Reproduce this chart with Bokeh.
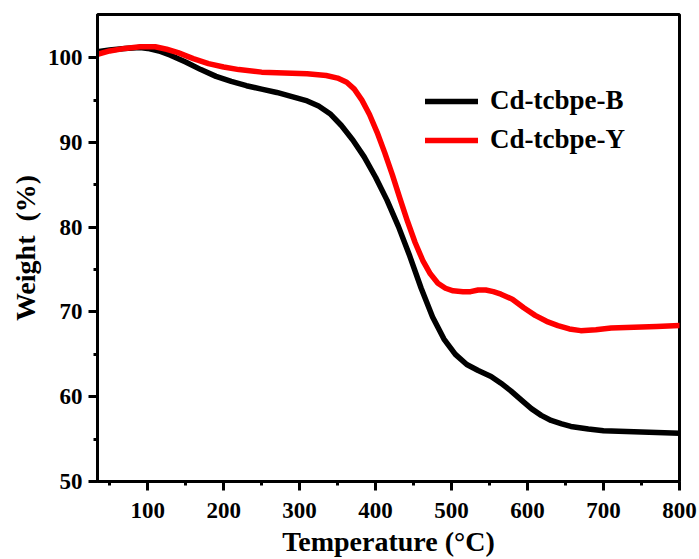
from bokeh.plotting import figure
from bokeh.models import FixedTicker, Range1d, Legend, LegendItem
from bokeh.embed import file_html
from bokeh.resources import INLINE

# Data
temp_b = [34, 50, 70, 90, 100, 115, 130, 150, 170, 190, 210, 230, 250, 270, 290, 310, 325, 340, 355, 370,
          385, 400, 415, 430, 445, 460, 475, 490, 505, 520, 535, 552, 565, 578, 592, 605, 618, 631, 645, 657,
          680, 700, 730, 760, 800]
weight_b = [100.7, 100.9, 101.1, 101.2, 101.1, 100.8, 100.3, 99.5, 98.6, 97.8, 97.2, 96.7, 96.3, 95.9, 95.4,
            94.9, 94.3, 93.4, 92.0, 90.3, 88.3, 85.9, 83.2, 80.1, 76.6, 72.8, 69.4, 66.8, 65.0, 63.8, 63.1,
            62.4, 61.6, 60.7, 59.6, 58.6, 57.8, 57.2, 56.8, 56.5, 56.2, 56.0, 55.9, 55.8, 55.7]

temp_y = [34, 50, 70, 90, 110, 125, 140, 160, 180, 200, 220, 250, 280, 310, 335, 350, 362, 372, 382, 392,
          402, 412, 422, 432, 442, 452, 462, 472, 482, 492, 502, 515, 525, 535, 545, 555, 565, 580, 595, 610,
          625, 640, 655, 670, 690, 710, 740, 770, 800]
weight_y = [100.4, 100.8, 101.1, 101.3, 101.3, 101.0, 100.6, 99.9, 99.3, 98.9, 98.6, 98.3, 98.2, 98.1, 97.9,
            97.6, 97.1, 96.3, 95.0, 93.3, 91.2, 88.8, 86.2, 83.4, 80.7, 78.2, 76.1, 74.5, 73.4, 72.8, 72.5,
            72.4, 72.4, 72.6, 72.6, 72.4, 72.1, 71.5, 70.5, 69.6, 68.9, 68.4, 68.0, 67.8, 67.9, 68.1, 68.2,
            68.3, 68.4]

x_major = [100, 200, 300, 400, 500, 600, 700, 800]
x_minor = [50, 150, 250, 350, 450, 550, 650, 750]
y_major = [50, 60, 70, 80, 90, 100]
y_minor = [55, 65, 75, 85, 95]

FONT = "Liberation Serif"

p = figure(width=699, height=559, output_backend="svg", toolbar_location=None,
           x_range=Range1d(34, 800), y_range=Range1d(50, 105.1),
           min_border_left=97, min_border_right=20, min_border_top=14, min_border_bottom=78)

p.grid.visible = False
p.outline_line_color = "black"
p.outline_line_width = 3
p.background_fill_color = "white"
p.border_fill_color = "white"

r_b = p.line(temp_b, weight_b, line_color="black", line_width=5.5, line_join="round", line_cap="round")
r_y = p.line(temp_y, weight_y, line_color="#ff0000", line_width=5.5, line_join="round", line_cap="round")

for ax in (p.xaxis[0], p.yaxis[0]):
    ax.axis_line_width = 3
    ax.major_tick_line_width = 3
    ax.minor_tick_line_width = 3
    ax.major_tick_out = 9
    ax.major_tick_in = 0
    ax.minor_tick_out = 4
    ax.minor_tick_in = 0
    ax.major_label_text_font = FONT
    ax.major_label_text_font_style = "bold"
    ax.major_label_text_font_size = "23px"
    ax.major_label_text_color = "black"
    ax.axis_label_text_font = FONT
    ax.axis_label_text_font_style = "bold"
    ax.axis_label_text_font_size = "28px"
    ax.axis_label_text_color = "black"

p.xaxis.ticker = FixedTicker(ticks=x_major, minor_ticks=x_minor)
p.yaxis.ticker = FixedTicker(ticks=y_major, minor_ticks=y_minor)
p.xaxis.axis_label = "Temperature (\u00b0C)"
p.yaxis.axis_label = "Weight\u00a0\u00a0(%)"
p.xaxis.major_label_standoff = 12
p.yaxis.major_label_standoff = 6
p.xaxis.axis_label_standoff = 5
p.yaxis.axis_label_standoff = 4

legend = Legend(items=[LegendItem(label="Cd-tcbpe-B", renderers=[r_b]),
                       LegendItem(label="Cd-tcbpe-Y", renderers=[r_y])],
                location=(328, 326))
legend.border_line_color = None
legend.background_fill_alpha = 0
legend.padding = 0
legend.margin = 0
legend.spacing = 8
legend.glyph_width = 53
legend.glyph_height = 30
legend.label_height = 30
legend.label_standoff = 12
legend.label_text_font = FONT
legend.label_text_font_style = "bold"
legend.label_text_font_size = "27px"
legend.label_text_color = "black"
p.add_layout(legend)

open("out.html", "w").write(file_html(p, INLINE))
